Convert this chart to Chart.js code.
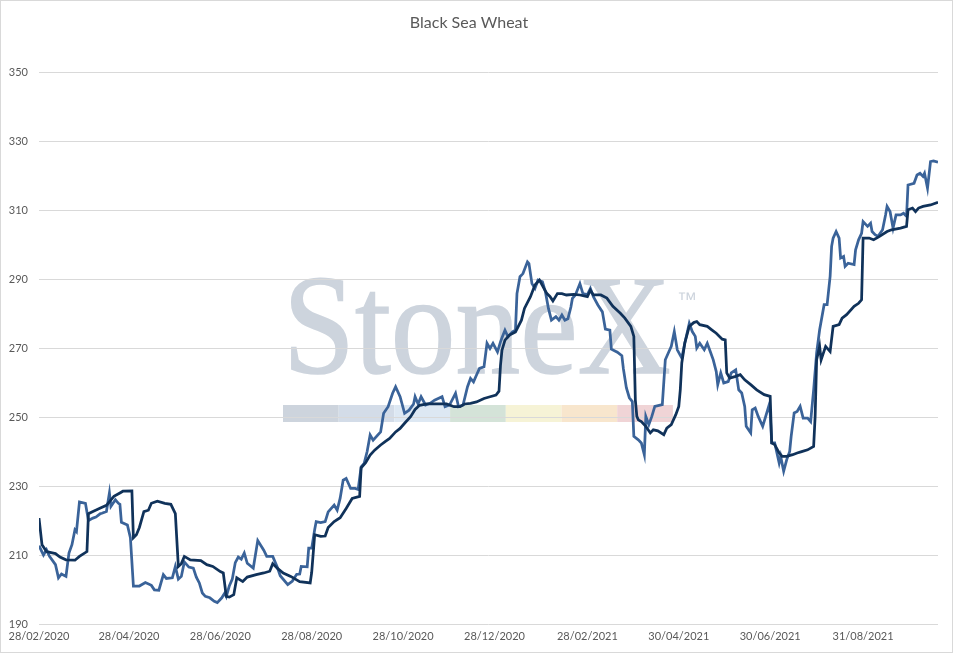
<!DOCTYPE html>
<html>
<head>
<meta charset="utf-8">
<title>Black Sea Wheat</title>
<script src="https://cdn.jsdelivr.net/npm/chart.js@4.4.1/dist/chart.umd.min.js"></script>
<style>
  html, body { margin: 0; padding: 0; background: #fff; }
  canvas { display: block; }
</style>
</head>
<body>
<canvas id="grafico" width="953" height="656"></canvas>
<script>
// dias contados a partir de startDate
const startDate = "28/02/2020";
const tickLabels = ["28/02/2020", "28/04/2020", "28/06/2020", "28/08/2020", "28/10/2020",
  "28/12/2020", "28/02/2021", "30/04/2021", "30/06/2021", "31/08/2021"];
const yMin = 190, yMax = 350, yStep = 20;
const xMax = 600;

const darkDays = [
  0, 2, 5, 11, 14, 18, 24, 27, 32, 33,
  36, 41, 45, 50, 54, 56, 62, 63, 65, 67,
  70, 73, 75, 79, 84, 88, 91, 93, 95, 97,
  101, 108, 112, 116, 121, 123, 125, 127, 130, 132,
  136, 139, 145, 150, 154, 156, 159, 163, 168, 174,
  181, 182, 184, 188, 191, 193, 197, 201, 205, 209,
  214, 215, 218, 221, 224, 228, 231, 234, 238, 241,
  244, 248, 251, 254, 259, 266, 272, 277, 281, 284,
  288, 292, 297, 301, 305, 307, 308, 309, 311, 314,
  318, 322, 324, 328, 331, 334, 337, 339, 341, 343,
  346, 349, 352, 357, 361, 366, 368, 370, 375, 379,
  383, 388, 391, 395, 397, 398, 399, 400, 402, 405,
  408, 410, 413, 417, 419, 422, 425, 427, 428, 429,
  431, 434, 437, 439, 441, 446, 449, 452, 456, 458,
  459, 461, 465, 468, 471, 475, 479, 484, 488, 489,
  491, 494, 496, 499, 503, 506, 509, 513, 517, 518,
  519, 521, 522, 525, 528, 530, 534, 536, 539, 544,
  547, 549, 550, 554, 557, 559, 561, 566, 569, 575,
  579, 580, 583, 585, 587, 590, 595, 600
];
const darkVals = [
  220.7, 213, 211, 210.4, 209.4, 208.6, 208.5, 209.6, 211, 222,
  222.6, 223.6, 224.4, 227, 228, 228.5, 228.6, 215, 215.9, 218,
  222.6, 223, 225, 225.6, 225, 224.7, 222, 206.7, 207.5, 209.6,
  208.6, 208.4, 207.2, 206.7, 205.2, 204.8, 198, 197.8, 198.5, 203.4,
  202.3, 203.6, 204.3, 204.8, 205.3, 207.5, 206.2, 204.8, 203.8, 202.3,
  201.9, 205, 215.9, 215.4, 215.5, 218, 219.7, 220.8, 223.5, 226.4,
  227, 235.3, 236.8, 239, 240.4, 241.9, 242.9, 243.8, 245.7, 246.7,
  248.2, 250.1, 252.2, 253.4, 253.8, 253.8, 253.8, 253, 253, 253.8,
  254, 254.4, 255.4, 255.9, 256.4, 257.5, 265, 269.4, 272.3, 273.8,
  274.7, 278.1, 281.5, 284.9, 288.3, 289.7, 287.3, 285.8, 285, 283.7,
  285.8, 285.8, 285.4, 285.6, 285.4, 284.9, 286.8, 285.4, 285.4, 284.5,
  282.1, 280.1, 278.7, 276.3, 273.4, 255, 250.2, 249.2, 248.7, 247.3,
  245.4, 246.3, 246, 244.9, 246.8, 247.8, 250.7, 253.1, 257.9, 265.7,
  271.5, 276.3, 277.4, 277.7, 276.8, 276.3, 275.3, 274.3, 272.6, 272.4,
  262.8, 261.3, 261.8, 262.3, 260.8, 259.4, 257.9, 256.5, 256, 242.5,
  242, 239.6, 238.6, 238.6, 239.1, 239.6, 240, 240.5, 241.5, 250.2,
  266.6, 270.5, 266.6, 270.5, 269, 276.3, 276.8, 278.7, 279.7, 282.1,
  283, 284, 301.9, 301.9, 301.4, 301.9, 302.4, 303.8, 304.3, 304.8,
  305.3, 310.1, 310.6, 309.6, 310.6, 311.1, 311.5, 312.3
];

const lightDays = [
  0, 3, 5, 7, 11, 13, 15, 18, 20, 22,
  24, 25, 27, 31, 33, 36, 38, 41, 42, 45,
  47, 48, 51, 53, 54, 55, 59, 61, 63, 67,
  71, 75, 77, 80, 83, 85, 89, 91, 93, 95,
  97, 100, 103, 105, 107, 109, 111, 114, 117, 119,
  122, 124, 125, 127, 129, 131, 133, 135, 137, 139,
  143, 146, 150, 152, 156, 159, 161, 166, 169, 172,
  174, 175, 179, 180, 182, 184, 185, 188, 191, 193,
  197, 199, 201, 203, 205, 208, 211, 213, 215, 217,
  219, 221, 223, 228, 230, 233, 236, 238, 241, 244,
  247, 250, 251, 253, 255, 258, 261, 264, 269, 271,
  274, 278, 280, 283, 286, 288, 290, 292, 294, 297,
  299, 301, 303, 306, 308, 309, 311, 313, 316, 318,
  319, 321, 323, 326, 327, 329, 331, 333, 336, 338,
  340, 342, 345, 347, 349, 351, 353, 355, 356, 358,
  361, 363, 366, 368, 370, 373, 376, 378, 381, 382,
  386, 389, 390, 392, 394, 396, 397, 400, 402, 404,
  405, 407, 409, 411, 416, 418, 420, 422, 424, 426,
  429, 431, 434, 436, 438, 439, 441, 444, 446, 448,
  450, 452, 453, 455, 457, 460, 462, 465, 467, 469,
  471, 472, 475, 476, 478, 480, 483, 485, 487, 488,
  489, 491, 494, 495, 497, 499, 501, 502, 504, 506,
  508, 510, 513, 515, 517, 519, 521, 524, 526, 528,
  529, 530, 532, 534, 535, 537, 538, 540, 544, 545,
  547, 549, 550, 553, 555, 556, 558, 560, 563, 565,
  566, 568, 570, 572, 575, 577, 579, 580, 584, 586,
  588, 590, 591, 593, 595, 597, 600
];
const lightVals = [
  212.7, 210, 211.5, 209.6, 207.2, 203.4, 204.5, 203.8, 210.6, 213,
  217.3, 216.8, 225.4, 225, 220, 220.7, 221, 222, 222.1, 222.6,
  228, 224.1, 226, 225, 224.7, 219.5, 218.7, 215, 201, 201,
  202, 201.2, 199.9, 199.8, 204.3, 203.2, 203.4, 206.7, 203, 203.8,
  208, 206.5, 206.2, 203.6, 201.9, 199, 198, 197.6, 196.6, 196.2,
  197.6, 199, 198, 201, 203, 207.8, 209.4, 208.8, 210.6, 207.6,
  206.2, 214.2, 211.4, 209.6, 209.6, 206.5, 204, 201.4, 202.4, 204.4,
  204.5, 206.7, 206.6, 212, 212, 217.4, 219.7, 219.4, 219.7, 222.5,
  224.5, 223, 226.5, 231.7, 232.2, 229.3, 229.3, 229, 235.6, 236.6,
  240, 244.8, 243.3, 245.7, 251.1, 253, 256.9, 258.8, 255.9, 251.1,
  252, 253.8, 255.9, 253.8, 255.9, 253.5, 254, 254.9, 255.9, 253,
  253.5, 256.9, 253, 253.5, 258.8, 261.2, 260.2, 262.2, 264.1, 264.6,
  271.4, 269.9, 271.4, 268.9, 271.8, 273, 275.2, 273.3, 274.7, 275.2,
  285.8, 290.7, 291.6, 295, 294.5, 288.7, 287.3, 289.7, 289.2, 286.3,
  281.5, 278.1, 279.1, 278.1, 279.6, 278.1, 278.5, 281.9, 284.4, 285.4,
  288.7, 285.8, 285.5, 287.3, 284.9, 282.5, 280.5, 275.5, 275.2, 269.7,
  268.8, 267.8, 264.1, 258.5, 255.6, 254.5, 244.4, 243.4, 242.5, 239.1,
  250.2, 247.8, 250.2, 253.1, 253.6, 266.6, 268.6, 270.5, 274.8, 269.5,
  267.1, 271.4, 277.2, 274.8, 273.4, 270, 271.4, 269.5, 271.4, 269,
  266.6, 263.2, 259.4, 262.8, 259.9, 260.3, 262.8, 263.7, 257.9, 257,
  253.1, 247.3, 245.4, 252.1, 252.6, 250.2, 247.3, 250.2, 253.1, 251.2,
  242.5, 242.5, 236.7, 238.6, 234.3, 237.6, 240, 244.4, 251.2, 251.6,
  253.1, 249.7, 249.7, 248.7, 257.9, 268.6, 275.3, 282.6, 282.6, 290.8,
  299.5, 301.9, 303.8, 301.9, 296.1, 296.6, 293.7, 294.6, 294.2, 298.5,
  301.4, 303.3, 306.7, 305.3, 306.2, 303.8, 302.9, 302.4, 304.3, 308.6,
  311.1, 309.6, 304.8, 308.6, 308.6, 309.1, 308.2, 317.3, 317.8, 320.2,
  320.7, 319.8, 320.7, 316.4, 324.1, 324.3, 323.9
];

const faixaCores = ["#cdd4dd", "#d3dce8", "#dde8f3", "#d4e3d8", "#f6f3d6", "#f8e6cd", "#f0d4d6"];

function diaDe(s) {
  const [d, m, a] = s.split("/").map(Number);
  return Date.UTC(a, m - 1, d);
}
const tickDays = tickLabels.map(s => Math.round((diaDe(s) - diaDe(startDate)) / 86400000));

function pontos(dias, vals) {
  return dias.map((d, i) => ({ x: d, y: vals[i] }));
}

const fundoStoneX = {
  id: "fundoStoneX",
  beforeDraw(chart) {
    const ctx = chart.ctx;
    ctx.save();
    ctx.fillStyle = "#ffffff";
    ctx.fillRect(0, 0, chart.width, chart.height);
    ctx.fillStyle = "#cdd4dd";
    ctx.strokeStyle = "#cdd4dd";
    ctx.lineWidth = 1.5;
    ctx.textAlign = "left";
    ctx.textBaseline = "alphabetic";
    ctx.font = '141px "Liberation Serif", "DejaVu Serif", serif';
    ctx.fillText("StoneX", 283, 373, 388);
    ctx.strokeText("StoneX", 283, 373, 388);
    ctx.font = '20px "Liberation Sans", sans-serif';
    ctx.fillText("™", 677, 306);
    faixaCores.forEach((c, i) => {
      ctx.fillStyle = c;
      ctx.fillRect(283 + i * 55.7, 405, 55.7, 17);
    });
    ctx.restore();
  },
  afterDraw(chart) {
    const ctx = chart.ctx;
    ctx.save();
    ctx.strokeStyle = "#d9d9d9";
    ctx.lineWidth = 1;
    ctx.strokeRect(0.5, 0.5, chart.width - 1, chart.height - 4);
    ctx.restore();
  }
};

const fonte = { family: "Lato, 'Open Sans', sans-serif", size: 11 };

new Chart(document.getElementById("grafico").getContext("2d"), {
  type: "line",
  data: {
    datasets: [
      {
        label: "Série 1",
        data: pontos(darkDays, darkVals),
        borderColor: "#10325a",
        borderWidth: 2.75,
        pointRadius: 0,
        tension: 0,
        order: 0
      },
      {
        label: "Série 2",
        data: pontos(lightDays, lightVals),
        borderColor: "#3a6399",
        borderWidth: 2.75,
        pointRadius: 0,
        tension: 0,
        order: 1
      }
    ]
  },
  options: {
    responsive: false,
    animation: false,
    layout: { padding: { left: 0, right: 15, top: 0, bottom: 0 } },
    plugins: {
      legend: { display: false },
      tooltip: { enabled: false },
      title: {
        display: true,
        text: "Black Sea Wheat",
        color: "#595959",
        font: { family: "Lato, 'Open Sans', sans-serif", size: 16, weight: "normal" },
        padding: { top: 13, bottom: 40 }
      }
    },
    scales: {
      x: {
        type: "linear",
        min: 0,
        max: xMax,
        afterBuildTicks: scale => { scale.ticks = tickDays.map(v => ({ value: v })); },
        afterFit: scale => { scale.height = 32; },
        grid: { display: false, drawTicks: false },
        border: { display: false },
        ticks: {
          autoSkip: false,
          maxRotation: 0,
          padding: 6,
          color: "#595959",
          font: fonte,
          callback: (v, i) => tickLabels[i]
        }
      },
      y: {
        min: yMin,
        max: yMax,
        afterFit: scale => { scale.width = 39; },
        grid: { color: "#d9d9d9", lineWidth: 1, drawTicks: false },
        border: { display: false },
        ticks: {
          stepSize: yStep,
          padding: 11,
          color: "#595959",
          font: fonte
        }
      }
    }
  },
  plugins: [fundoStoneX]
});
</script>
</body>
</html>
